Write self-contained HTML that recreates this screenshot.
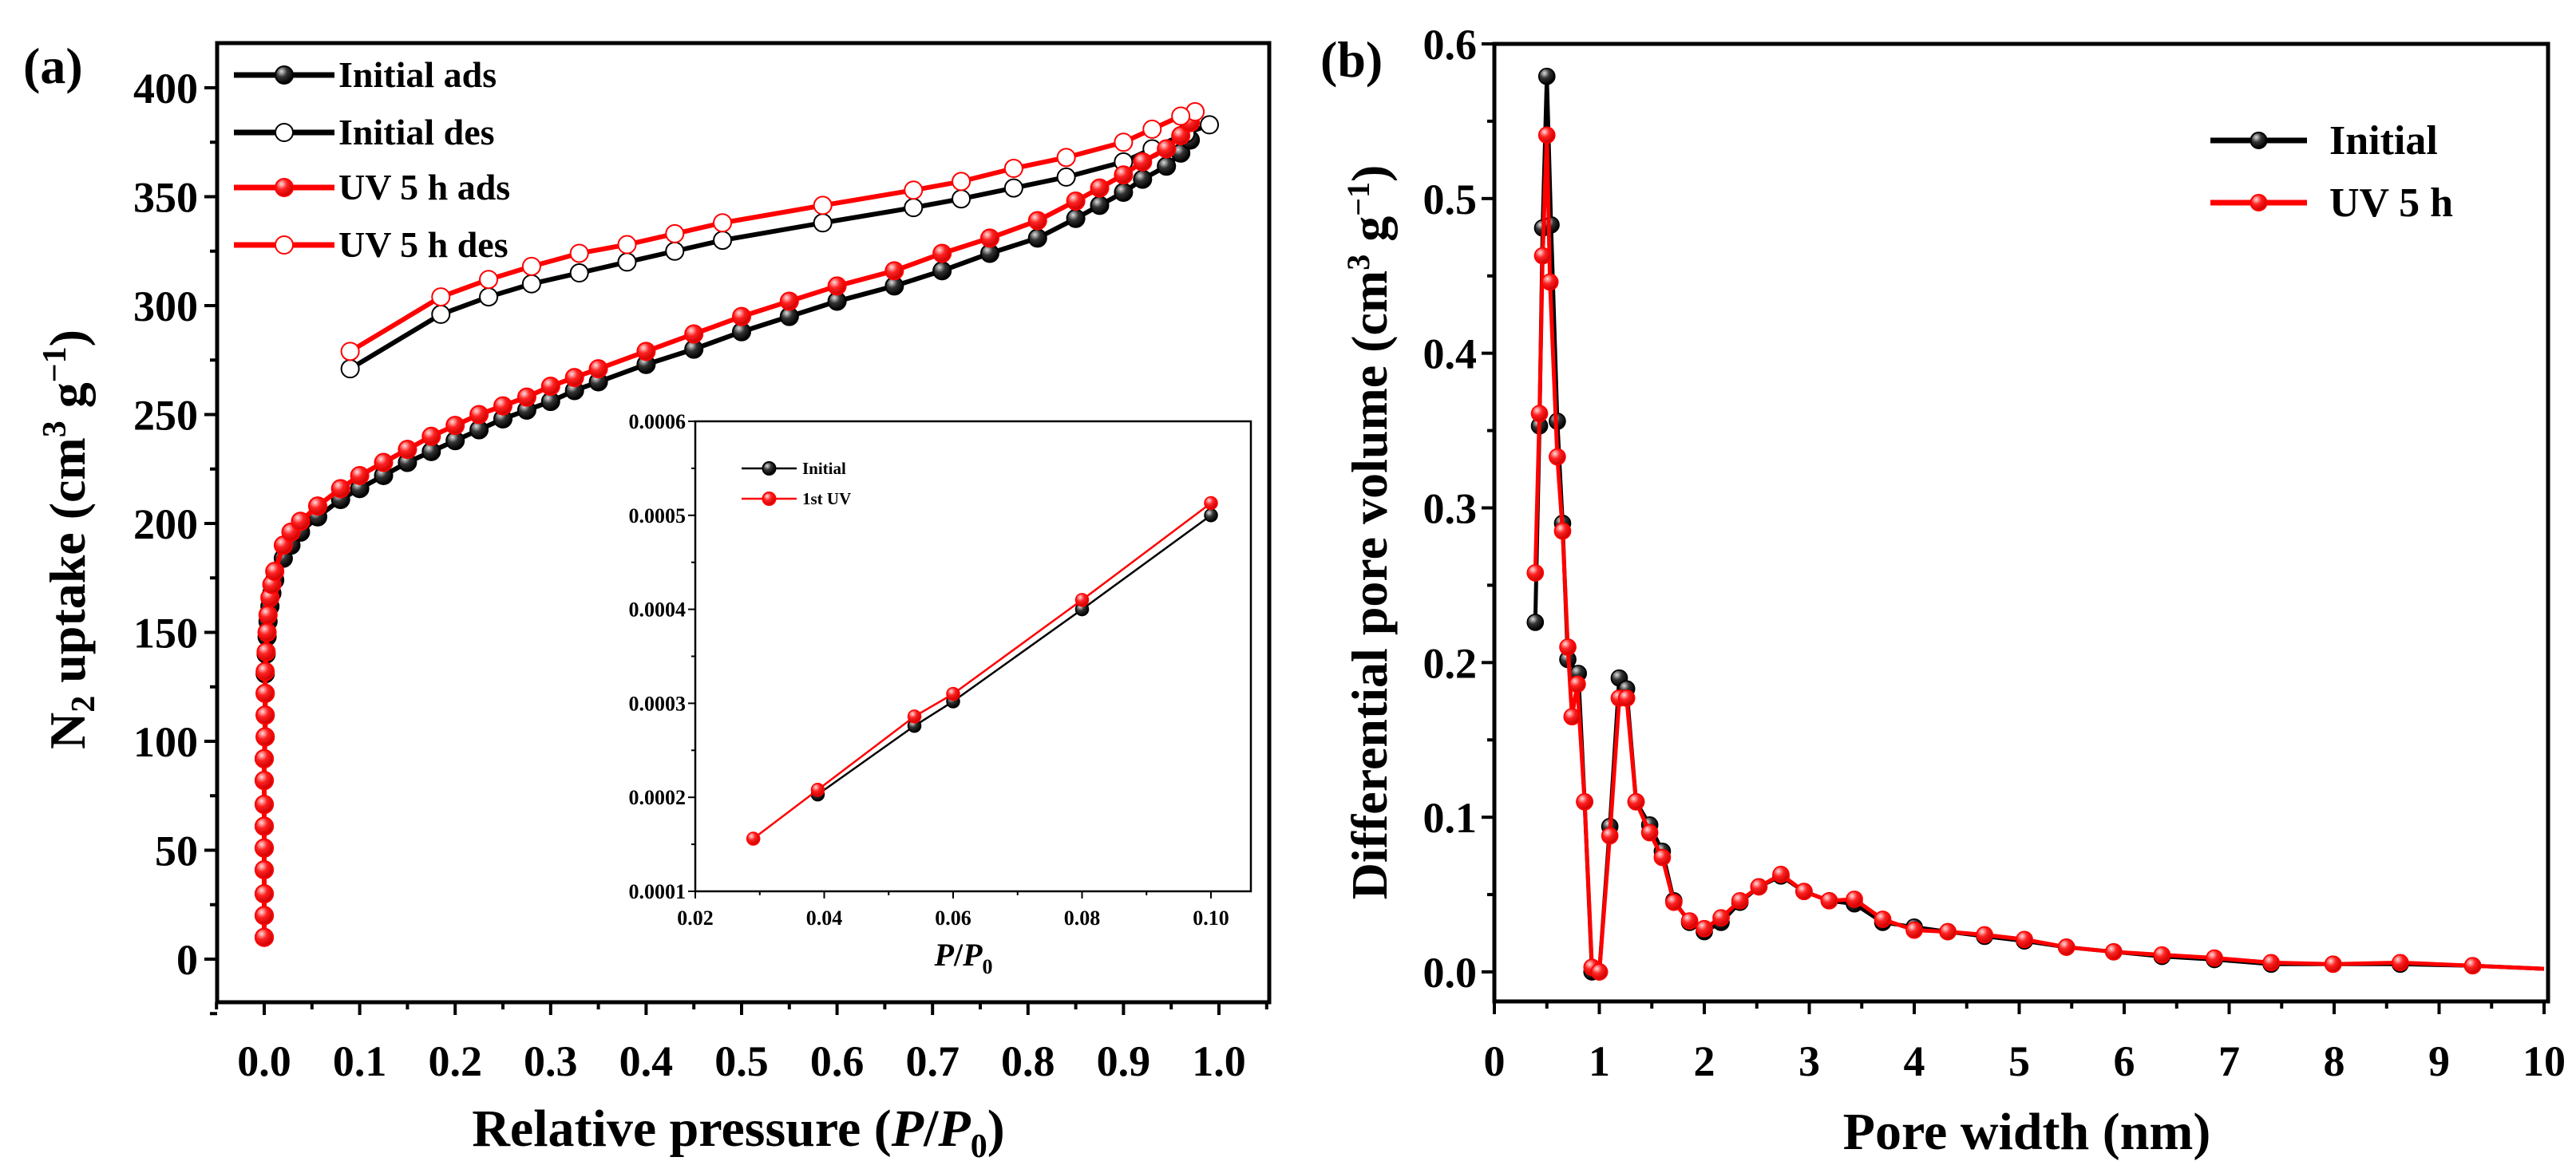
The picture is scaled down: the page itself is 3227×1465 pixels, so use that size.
<!DOCTYPE html>
<html><head><meta charset="utf-8"><style>
html,body{margin:0;padding:0;background:#fff;overflow:hidden;}
svg{display:block;font-family:"Liberation Serif",serif;font-weight:bold;}
</style></head><body>
<svg id="s" width="3227" height="1465" viewBox="0 0 3227 1465" xmlns="http://www.w3.org/2000/svg">
<defs>
<radialGradient id="gk" cx="35%" cy="30%" r="70%"><stop offset="0" stop-color="#ddd"/><stop offset="0.45" stop-color="#333"/><stop offset="1" stop-color="#000"/></radialGradient>
<radialGradient id="gr" cx="35%" cy="30%" r="70%"><stop offset="0" stop-color="#fdd"/><stop offset="0.45" stop-color="#f22"/><stop offset="1" stop-color="#c00"/></radialGradient>
</defs>
</svg>
<script>
// ---- Panel (a) data ----
const aInitAdsX=[0,0,0,0,0,0,0,0,0,0.001,0.001,0.001,0.001,0.002,0.003,0.004,0.006,0.008,0.011,0.02,0.028,0.038,0.056,0.08,0.1,0.125,0.15,0.175,0.2,0.225,0.25,0.275,0.3,0.325,0.35,0.4,0.45,0.5,0.55,0.6,0.66,0.71,0.76,0.81,0.85,0.875,0.9,0.92,0.945,0.96,0.97];
const aInitAdsY=[10,20,30,41,51,61,71,82,92,102,112,122,131,140,148,155,162,168,174,184,190,196,203,211,216,222,228,233,238,243,248,252,256,261,265,273,280,288,295,302,309,316,324,331,340,346,352,358,364,370,376];
const aUVAdsX=[0,0,0,0,0,0,0,0,0,0.001,0.001,0.001,0.001,0.002,0.003,0.004,0.006,0.008,0.011,0.02,0.028,0.038,0.056,0.08,0.1,0.125,0.15,0.175,0.2,0.225,0.25,0.275,0.3,0.325,0.35,0.4,0.45,0.5,0.55,0.6,0.66,0.71,0.76,0.81,0.85,0.875,0.9,0.92,0.945,0.96,0.97];
const aUVAdsY=[10,20,30,41,51,61,71,82,92,102,112,122,132,141,150,158,166,172,178,190,196,201,208,216,222,228,234,240,245,250,254,258,263,267,271,279,287,295,302,309,316,324,331,339,348,354,360,366,372,378,384];
const aInitDesX=[0.99,0.965,0.93,0.9,0.84,0.785,0.73,0.68,0.585,0.48,0.43,0.38,0.33,0.28,0.235,0.185,0.09];
const aInitDesY=[383,379,372,366,359,354,349,345,338,330,325,320,315,310,304,296,271];
const aUVDesX=[0.975,0.96,0.93,0.9,0.84,0.785,0.73,0.68,0.585,0.48,0.43,0.38,0.33,0.28,0.235,0.185,0.09];
const aUVDesY=[389,387,381,375,368,363,357,353,346,338,333,328,324,318,312,304,279];
const aXTicks=["0.0","0.1","0.2","0.3","0.4","0.5","0.6","0.7","0.8","0.9","1.0"];
const aYTicks=[0,50,100,150,200,250,300,350,400];
// ---- inset data ----
const inInitX=[0.039,0.054,0.06,0.08,0.1];
const inInitY=[0.000203,0.000276,0.000302,0.0004,0.0005];
const inUVX=[0.029,0.039,0.054,0.06,0.08,0.1];
const inUVY=[0.000156,0.000208,0.000286,0.00031,0.00041,0.000513];
const inXTicks=["0.02","0.04","0.06","0.08","0.10"];
const inYTicks=["0.0001","0.0002","0.0003","0.0004","0.0005","0.0006"];
// ---- Panel (b) data ----
const bInitX=[0.39,0.43,0.46,0.5,0.54,0.6,0.65,0.7,0.8,0.86,0.93,1.0,1.1,1.19,1.26,1.35,1.48,1.6,1.71,1.86,2.0,2.16,2.34,2.52,2.73,2.95,3.19,3.43,3.7,4.0,4.32,4.67,5.05,5.45,5.9,6.36,6.86,7.4,7.99,8.63,9.32,10.0];
const bInitY=[0.226,0.353,0.481,0.579,0.483,0.356,0.29,0.202,0.193,0.11,0.0,0.0,0.094,0.19,0.183,0.11,0.095,0.078,0.046,0.032,0.026,0.032,0.045,0.055,0.062,0.052,0.046,0.044,0.032,0.029,0.026,0.023,0.02,0.016,0.013,0.01,0.008,0.005,0.005,0.005,0.004,0.002];
const bUVX=[0.39,0.43,0.46,0.5,0.53,0.6,0.65,0.7,0.74,0.79,0.86,0.93,1.0,1.1,1.19,1.26,1.35,1.48,1.6,1.71,1.86,2.0,2.16,2.34,2.52,2.73,2.95,3.19,3.43,3.7,4.0,4.32,4.67,5.05,5.45,5.9,6.36,6.86,7.4,7.99,8.63,9.32,10.0];
const bUVY=[0.258,0.361,0.463,0.541,0.446,0.333,0.285,0.21,0.165,0.186,0.11,0.003,0.0,0.088,0.177,0.177,0.11,0.09,0.074,0.045,0.033,0.028,0.035,0.046,0.055,0.063,0.052,0.046,0.047,0.034,0.027,0.026,0.024,0.021,0.016,0.013,0.011,0.009,0.006,0.005,0.006,0.004,0.002];
const bXTicks=[0,1,2,3,4,5,6,7,8,9,10];
const bYTicks=["0.0","0.1","0.2","0.3","0.4","0.5","0.6"];

const svg=document.getElementById('s');
const NS='http://www.w3.org/2000/svg';
function mk(tag,attrs,parent){const e=document.createElementNS(NS,tag);for(const k in attrs)e.setAttribute(k,attrs[k]);(parent||svg).appendChild(e);return e;}
function txt(s,x,y,size,anchor,parent){const t=mk('text',{x:x,y:y,'font-size':size,'text-anchor':anchor||'middle'},parent);t.textContent=s;return t;}
function lin(d0,d1,r0,r1){return v=>r0+(v-d0)/(d1-d0)*(r1-r0);}

function series(g,xs,ys,fx,fy,color,fill,r,lw,name,skipLast){
  const line=mk('polyline',{points:xs.map((x,i)=>fx(x)+','+fy(ys[i])).join(' '),fill:'none',stroke:color,'stroke-width':lw,'stroke-linejoin':'round'},g);
  
  
  xs.forEach((x,i)=>{if(skipLast&&i===xs.length-1)return;
    const c=mk('circle',{cx:fx(x),cy:fy(ys[i]),r:r,fill:fill,stroke:color,'stroke-width':Math.max(1.5,lw/3)},g);
    
    });
}
function legendEntry(g,x1,x2,y,color,fill,r,lw,label,tx,size,name){
  const l=mk('g',{},g);
  
  
  mk('line',{x1:x1,x2:x2,y1:y,y2:y,stroke:color,'stroke-width':lw},l);
  mk('circle',{cx:(x1+x2)/2,cy:y,r:r,fill:fill,stroke:color,'stroke-width':2},l);
  txt(label,tx,y+size*0.33,size,'start',l);
}

// ===== Panel (a) =====
const ga=mk('g',{});


const aL=272,aR=1590,aT=54,aB=1256;
const ax=lin(0,1,331,1527), ay=lin(0,400,1202,110);
mk('rect',{x:aL,y:aT,width:aR-aL,height:aB-aT,fill:'none',stroke:'#000','stroke-width':5},ga);
aYTicks.forEach(v=>{mk('line',{x1:aL,x2:aL-16,y1:ay(v),y2:ay(v),stroke:'#000','stroke-width':4},ga);
  txt(String(v),aL-24,ay(v)+19,54,'end',ga);
  if(v<400)mk('line',{x1:aL,x2:aL-9,y1:ay(v+25),y2:ay(v+25),stroke:'#000','stroke-width':4},ga);});
mk('line',{x1:aL,x2:aL-9,y1:ay(-25),y2:ay(-25),stroke:'#000','stroke-width':4},ga);
aXTicks.forEach((s,i)=>{const v=i/10;mk('line',{x1:ax(v),x2:ax(v),y1:aB,y2:aB+16,stroke:'#000','stroke-width':4},ga);
  txt(s,ax(v),1348,54,'middle',ga);
  mk('line',{x1:ax(v+0.05),x2:ax(v+0.05),y1:aB,y2:aB+9,stroke:'#000','stroke-width':4},ga);});
mk('line',{x1:ax(-0.05),x2:ax(-0.05),y1:aB,y2:aB+9,stroke:'#000','stroke-width':4},ga);
series(ga,aInitAdsX,aInitAdsY,ax,ay,'#000','url(#gk)',11,6,'initial-ads');
series(ga,aInitDesX,aInitDesY,ax,ay,'#000','#fff',11,6,'initial-des');
series(ga,aUVAdsX,aUVAdsY,ax,ay,'#f00','url(#gr)',11,6,'uv5h-ads');
series(ga,aUVDesX,aUVDesY,ax,ay,'#f00','#fff',11,6,'uv5h-des');
legendEntry(ga,293,419,94,'#000','url(#gk)',11,7,'Initial ads',424,46,'legend-initial-ads');
legendEntry(ga,293,419,166,'#000','#fff',11,7,'Initial des',424,46,'legend-initial-des');
legendEntry(ga,293,419,235,'#f00','url(#gr)',11,7,'UV 5 h ads',424,46,'legend-uv5h-ads');
legendEntry(ga,293,419,307,'#f00','#fff',11,7,'UV 5 h des',424,46,'legend-uv5h-des');
const ta=txt('(a)',29,104,64,'start',ga);
const yta=mk('text',{x:0,y:0,'font-size':64,'text-anchor':'middle',transform:'translate(106,676) rotate(-90)'},ga);
yta.innerHTML='N<tspan font-size="42" dy="12">2</tspan><tspan dy="-12"> uptake (cm</tspan><tspan font-size="42" dy="-24">3</tspan><tspan dy="24"> g</tspan><tspan font-size="42" dy="-24">−1</tspan><tspan dy="24">)</tspan>';

const xta=mk('text',{x:925,y:1436,'font-size':66,'text-anchor':'middle'},ga);
xta.innerHTML='Relative pressure (<tspan font-style="italic">P</tspan>/<tspan font-style="italic">P</tspan><tspan font-size="42" dy="14">0</tspan><tspan dy="-14">)</tspan>';


// ===== Inset =====
const gi=mk('g',{});


const iL=871,iR=1567,iT=528,iB=1117;
const ix=lin(0.02,0.10,871,1517), iy=lin(0.0001,0.0006,1117,528);
mk('rect',{x:iL,y:iT,width:iR-iL,height:iB-iT,fill:'#fff',stroke:'#000','stroke-width':2.5},gi);
inYTicks.forEach(s=>{const v=parseFloat(s);mk('line',{x1:iL,x2:iL-9,y1:iy(v),y2:iy(v),stroke:'#000','stroke-width':2},gi);
  txt(s,iL-12,iy(v)+9,26,'end',gi);
  if(v<0.0006)mk('line',{x1:iL,x2:iL-5,y1:iy(v+0.00005),y2:iy(v+0.00005),stroke:'#000','stroke-width':2},gi);});
inXTicks.forEach(s=>{const v=parseFloat(s);mk('line',{x1:ix(v),x2:ix(v),y1:iB,y2:iB+9,stroke:'#000','stroke-width':2},gi);
  txt(s,ix(v),iB+42,26,'middle',gi);
  if(v<0.1)mk('line',{x1:ix(v+0.01),x2:ix(v+0.01),y1:iB,y2:iB+5,stroke:'#000','stroke-width':2},gi);});
series(gi,inInitX,inInitY,ix,iy,'#000','url(#gk)',8,2.5,'inset-initial');
series(gi,inUVX,inUVY,ix,iy,'#f00','url(#gr)',8,2.5,'inset-1st-uv');
legendEntry(gi,929,998,587,'#000','url(#gk)',8,2.5,'Initial',1005,21,'inset-legend-initial');
legendEntry(gi,929,998,625,'#f00','url(#gr)',8,2.5,'1st UV',1005,21,'inset-legend-1st-uv');
const ixt=mk('text',{x:1207,y:1210,'font-size':40,'text-anchor':'middle'},gi);
ixt.innerHTML='<tspan font-style="italic">P</tspan>/<tspan font-style="italic">P</tspan><tspan font-size="26" dy="10">0</tspan>';


// ===== Panel (b) =====
const gb=mk('g',{});


const bL=1872,bR=3192,bT=55,bB=1255;
const bx=lin(0,10,1872,3187), by=lin(0,0.6,1218,55);
mk('rect',{x:bL,y:bT,width:bR-bL,height:bB-bT,fill:'none',stroke:'#000','stroke-width':5},gb);
bYTicks.forEach(s=>{const v=parseFloat(s);mk('line',{x1:bL,x2:bL-16,y1:by(v),y2:by(v),stroke:'#000','stroke-width':4},gb);
  txt(s,bL-22,by(v)+19,54,'end',gb);
  if(v<0.6)mk('line',{x1:bL,x2:bL-9,y1:by(v+0.05),y2:by(v+0.05),stroke:'#000','stroke-width':4},gb);});
bXTicks.forEach(v=>{mk('line',{x1:bx(v),x2:bx(v),y1:bB,y2:bB+16,stroke:'#000','stroke-width':4},gb);
  txt(String(v),bx(v),1348,54,'middle',gb);
  if(v<10)mk('line',{x1:bx(v+0.5),x2:bx(v+0.5),y1:bB,y2:bB+9,stroke:'#000','stroke-width':4},gb);});
series(gb,bInitX,bInitY,bx,by,'#000','url(#gk)',10,5,'initial',true);
series(gb,bUVX,bUVY,bx,by,'#f00','url(#gr)',10,5,'uv5h',true);
legendEntry(gb,2769,2890,176,'#000','url(#gk)',10,7,'Initial',2918,52,'legend-initial');
legendEntry(gb,2769,2890,254,'#f00','url(#gr)',10,7,'UV 5 h',2918,52,'legend-uv5h');
const tb=txt('(b)',1654,96,64,'start',gb);
const ytb=mk('text',{x:0,y:0,'font-size':64,'text-anchor':'middle',transform:'translate(1737,667) rotate(-90)'},gb);
ytb.innerHTML='Differential pore volume (cm<tspan font-size="40" dy="-22">3</tspan><tspan dy="22"> g</tspan><tspan font-size="40" dy="-22">−1</tspan><tspan dy="22">)</tspan>';

const xtb=txt('Pore width (nm)',2539,1440,66,'middle',gb);

</script>
</body></html>
